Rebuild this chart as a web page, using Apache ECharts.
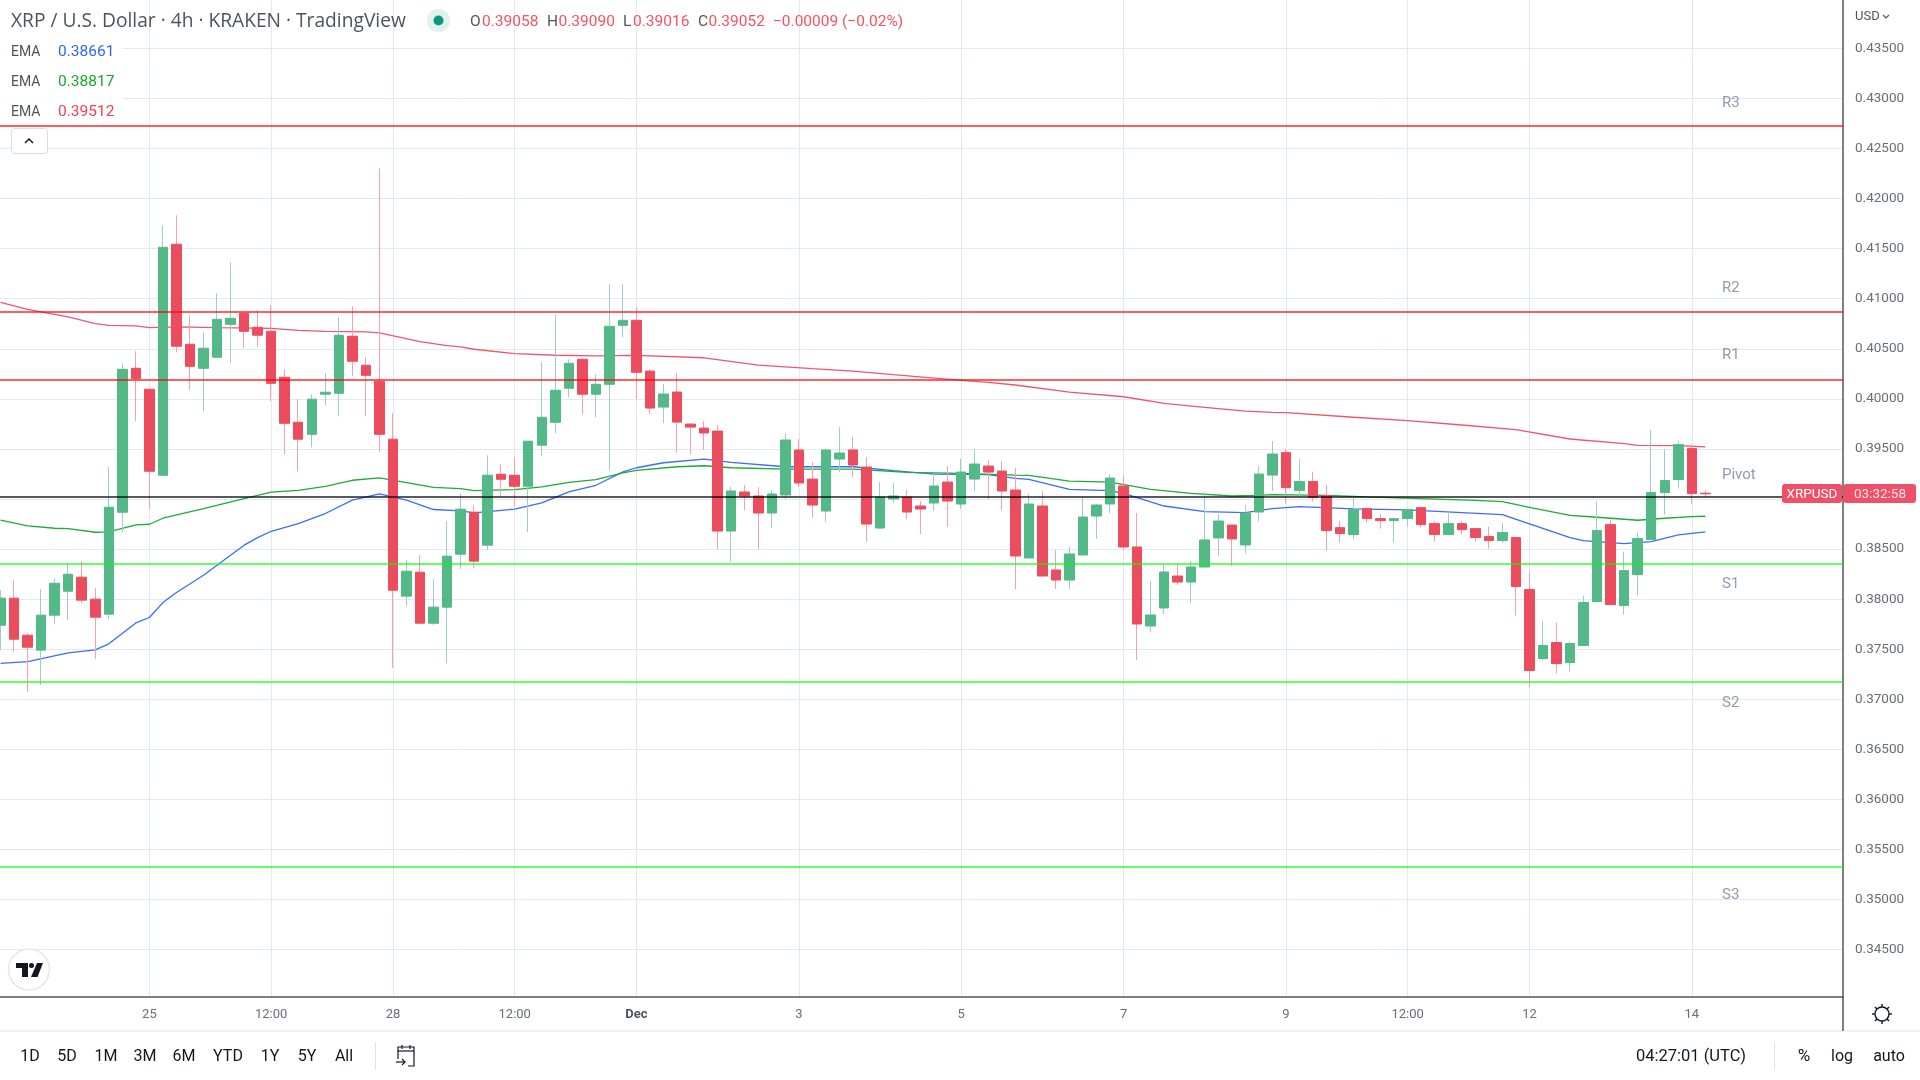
<!DOCTYPE html>
<html>
<head>
<meta charset="utf-8">
<script src="https://cdn.jsdelivr.net/npm/echarts@6/dist/echarts.min.js"></script>
<style>
  html, body { margin: 0; padding: 0; background: #fff; }
  #chart-id { width: 1920px; height: 1080px; }
</style>
</head>
<body>
<div id="chart-id"></div>
<script>
// XRP / USD 4h candles
var opens = [
  .37740,.38010,.37640,.37491,.37840,.38079,.38219,.38000,.37850,.38868,
  .40305,.40096,.39237,.41543,.40545,.40305,.40415,.40744,.40854,.40714,
  .40674,.40215,.39766,.39646,.40046,.40056,.40625,.40335,.40175,.39597,
  .38030,.38269,.37760,.37920,.38449,.38868,.38539,.39247,.39237,.39127,
  .39537,.39766,.40106,.40395,.40046,.40145,.40734,.40784,.40277,.39918,
  .40068,.39748,.39708,.39678,.38680,.39070,.39030,.38860,.39040,.39489,
  .39199,.38880,.39399,.39489,.39319,.38710,.39000,.39020,.38930,.38960,
  .39169,.38950,.39199,.39329,.39279,.39090,.38411,.38930,.38291,.38191,
  .38441,.38830,.38950,.39130,.38521,.37732,.37912,.38231,.38171,.38321,
  .38611,.38740,.38541,.38870,.39239,.39463,.39084,.39174,.39034,.38714,
  .38645,.38904,.38804,.38784,.38804,.38914,.38754,.38645,.38754,.38704,
  .38625,.38585,.38615,.38096,.37407,.37567,.37367,.37537,.37976,.38744,
  .37936,.38245,.38595,.39064,.39194,.39503,.39058
];
var closes = [
  .38010,.37600,.37520,.37840,.38159,.38249,.37990,.37820,.38918,.40295,
  .40202,.39277,.41513,.40525,.40325,.40505,.40794,.40804,.40674,.40635,
  .40155,.39756,.39597,.39996,.40066,.40635,.40375,.40235,.39646,.38089,
  .38279,.37760,.37920,.38429,.38898,.38379,.39237,.39197,.39127,.39577,
  .39816,.40086,.40355,.40046,.40145,.40724,.40784,.40265,.39908,.40048,
  .39768,.39718,.39659,.38680,.39080,.39030,.38860,.39050,.39589,.39160,
  .38940,.39489,.39459,.39339,.38750,.39020,.39030,.38870,.38900,.39130,
  .38980,.39269,.39349,.39269,.39080,.38431,.38950,.38231,.38191,.38451,
  .38820,.38940,.39209,.38521,.37752,.37842,.38271,.38171,.38321,.38591,
  .38780,.38601,.38860,.39249,.39449,.39114,.39174,.39014,.38685,.38655,
  .38894,.38804,.38784,.38804,.38894,.38744,.38645,.38754,.38694,.38615,
  .38585,.38665,.38126,.37287,.37537,.37357,.37557,.37966,.38685,.37946,
  .38285,.38605,.39064,.39184,.39543,.39054,.39052
];
var highs = [
  .38089,.38189,.37664,.38099,.38209,.38356,.38379,.38109,.39317,.40355,
  .40475,.40096,.41732,.41832,.40834,.40665,.41054,.41363,.40867,.40884,
  .40934,.40295,.39996,.40046,.40255,.40814,.40924,.40415,.42301,.39856,
  .38389,.38439,.38199,.38778,.39058,.38938,.39437,.39347,.39417,.39577,
  .40365,.40844,.40395,.40405,.40245,.41144,.41144,.40914,.40297,.40148,
  .40257,.39758,.39778,.39738,.39120,.39140,.39120,.39090,.39649,.39599,
  .39369,.39499,.39718,.39619,.39419,.39169,.39160,.39090,.38980,.39249,
  .39329,.39399,.39499,.39389,.39379,.39309,.39050,.39080,.38491,.38521,
  .39020,.38950,.39249,.39239,.38860,.38181,.38341,.38361,.38381,.39070,
  .38850,.38740,.38940,.39329,.39579,.39500,.39403,.39273,.39144,.38784,
  .39034,.38904,.38854,.38804,.38904,.38914,.38784,.38874,.38774,.38704,
  .38724,.38764,.38615,.38275,.37786,.37766,.37577,.38036,.38974,.38794,
  .38475,.38665,.39693,.39500,.39583,.39543,.39090
];
var lows = [
  .37491,.37471,.37075,.37141,.37750,.37790,.37960,.37401,.37800,.38668,
  .39776,.38898,.39227,.40465,.40086,.39876,.40415,.40355,.40505,.40515,
  .39976,.39447,.39277,.39517,.39936,.39826,.40225,.39826,.39467,.37311,
  .37930,.37750,.37740,.37361,.38299,.38309,.38489,.39028,.38928,.38668,
  .39427,.39656,.40016,.39846,.39816,.39287,.40615,.39996,.39848,.39758,
  .39459,.39449,.39489,.38501,.38371,.38890,.38501,.38710,.39000,.39120,
  .38810,.38770,.39269,.39219,.38571,.38710,.38960,.38800,.38650,.38880,
  .38720,.38900,.39080,.39000,.38890,.38102,.38411,.38231,.38102,.38102,
  .38441,.38601,.38860,.38491,.37393,.37672,.37852,.38141,.37962,.38321,
  .38431,.38331,.38461,.38780,.39080,.38954,.39024,.38974,.38485,.38565,
  .38595,.38764,.38704,.38565,.38724,.38714,.38575,.38645,.38645,.38575,
  .38505,.38565,.37836,.37117,.37387,.37257,.37277,.37537,.37976,.37946,
  .37846,.38036,.38595,.38844,.39104,.38954,.39016
];

// EMA lines, [candle number, price] read at the visible bends
var emaBlue = [
  [0,.37358],[2,.37377],[5,.37464],[7,.37494],[8,.37554],[10,.37763],[11,.37817],[12,.37966],
  [13,.38066],[15,.38239],[18,.38539],[19,.38615],[20,.38678],[22,.38755],[24,.38855],[26,.38988],
  [28,.39051],[30,.38988],[32,.38895],[34,.38881],[35,.38861],[38,.38898],[40,.38961],[42,.39071],
  [44,.39137],[46,.39271],[47,.39312],[49,.39362],[52,.39399],[54,.39366],[58,.39322],[63,.39322],
  [66,.39283],[69,.39249],[73,.39243],[75,.39206],[76,.39196],[79,.39096],[82,.39083],[83,.39056],
  [86,.38930],[89,.38873],[92,.38863],[94,.38903],[96,.38924],[100,.38901],[104,.38891],[108,.38864],
  [111,.38844],[113,.38751],[116,.38615],[117,.38585],[120,.38555],[122,.38575],[124,.38641],[126,.38671]
];
var emaGreen = [
  [0,.38788],[2,.38732],[4,.38708],[5,.38705],[7,.38668],[8,.38672],[10,.38742],[11,.38748],
  [12,.38808],[15,.38904],[18,.39004],[20,.39068],[22,.39087],[24,.39127],[26,.39187],[28,.39211],
  [32,.39117],[34,.39104],[35,.39084],[38,.39094],[40,.39121],[42,.39167],[44,.39194],[46,.39261],
  [47,.39286],[50,.39322],[52,.39332],[54,.39312],[58,.39299],[63,.39299],[67,.39266],[71,.39256],
  [75,.39239],[76,.39236],[79,.39179],[82,.39169],[85,.39096],[88,.39056],[91,.39030],[93,.39036],
  [94,.39043],[98,.39037],[101,.39021],[105,.39004],[109,.38987],[111,.38974],[113,.38917],[116,.38837],
  [118,.38818],[121,.38788],[123,.38808],[125,.38824],[126,.38828]
];
var emaRed = [
  [0,.40964],[2,.40894],[5,.40818],[7,.40751],[8,.40734],[10,.40728],[11,.40711],[13,.40718],
  [16,.40711],[20,.40704],[22,.40684],[24,.40674],[27,.40668],[28,.40658],[31,.40571],[33,.40531],
  [34,.40518],[35,.40495],[38,.40452],[41,.40435],[44,.40428],[47,.40434],[52,.40410],[56,.40337],
  [60,.40301],[63,.40277],[66,.40241],[69,.40207],[73,.40164],[75,.40138],[79,.40068],[83,.40021],
  [86,.39955],[89,.39915],[92,.39878],[94,.39865],[95,.39862],[100,.39816],[104,.39782],[108,.39739],
  [112,.39693],[116,.39599],[120,.39553],[121,.39536],[124,.39533],[126,.39520]
];

// pivot levels
var pivotNames = ['R3', 'R2', 'R1', 'Pivot', 'S1', 'S2', 'S3'];
var pivotValues = [.42724, .40874, .40195, .39018, .38349, .37171, .35326];
var pivotLabelValues = [.42950, .41102, .40432, .39238, .38148, .36963, .35043];

// time axis, candle number of each tick
var timeTicks = [11, 20, 29, 38, 47, 59, 71, 83, 95, 104, 113, 125];
var timeLabels = ['25', '12:00', '28', '12:00', 'Dec', '3', '5', '7', '9', '12:00', '12', '14'];
var priceTicks = [.345, .35, .355, .36, .365, .37, .375, .38, .385, .39, .395, .40, .405, .41, .415, .42, .425, .43, .435];

var legendKeys = ['O', 'H', 'L', 'C'];
var legendValues = ['0.39058', '0.39090', '0.39016', '0.39052'];
var legendKeyX = [470, 547, 623, 698];
var legendValueX = [482, 558.5, 633, 708.5];

var rangeButtons = ['1D', '5D', '1M', '3M', '6M', 'YTD', '1Y', '5Y', 'All'];
var rangeButtonX = [30, 67, 106, 145, 184, 228, 270, 307, 344];

var FONT = 'Roboto, sans-serif';
var UP = '#53b987', DOWN = '#ec4d5e', UP_WICK = '#a2cbcc', DOWN_WICK = '#f7a1ad';
var GRID = '#e1eaf0';
var BAND = 13.53, FIRST = 0.57;   // px per candle, px of first candle

var wicks = opens.map(function (o, i) { return [i, o, closes[i], lows[i], highs[i]]; });
var bodies = opens.map(function (o, i) {
  return [i, o, closes[i], Math.min(o, closes[i]), Math.max(o, closes[i])];
});

var pivotLines = pivotValues.map(function (v, i) {
  var col = i < 3 ? 'rgba(255,0,0,0.63)' : i === 3 ? 'rgba(0,0,0,0.65)' : 'rgba(0,255,0,0.6)';
  return { yAxis: v, lineStyle: { color: col, width: 2, type: 'solid' } };
});
var pivotLabels = pivotNames.map(function (n, i) {
  return { value: [(1722 - FIRST) / BAND, pivotLabelValues[i]], name: n };
});

function txt(x, y, s, size, color, align, family) {
  return {
    type: 'text', x: x, y: y, z: 100, silent: true,
    style: { text: s, font: size + 'px ' + (family || FONT), fill: color, align: align || 'left', verticalAlign: 'middle' }
  };
}
function box(x, y, w, h, fill, r, stroke) {
  return {
    type: 'rect', z: 99, silent: true, shape: { x: x, y: y, width: w, height: h, r: r || 0 },
    style: { fill: fill, stroke: stroke || null }
  };
}
function poly(points, color, width) {
  return { type: 'polyline', z: 100, silent: true, shape: { points: points }, style: { stroke: color, lineWidth: width || 1.5, fill: null } };
}

var gearRays = [];
for (var a = 0; a < 8; a++) {
  var c = Math.cos(a * Math.PI / 4), s = Math.sin(a * Math.PI / 4);
  gearRays.push(poly([[1882 + 7 * c, 1014 + 7 * s], [1882 + 10 * c, 1014 + 10 * s]], '#131722', 1.4));
}

var graphics = [
  // header backgrounds
  box(0, 38, 123, 26, 'rgba(255,255,255,0.85)'),
  box(0, 68, 123, 26, 'rgba(255,255,255,0.85)'),
  box(0, 98, 123, 26, 'rgba(255,255,255,0.85)'),
  txt(11, 22, 'XRP / U.S. Dollar · 4h · KRAKEN · TradingView', 19.2, '#50535e', 'left', '"Open Sans", sans-serif'),
  { type: 'circle', z: 99, silent: true, shape: { cx: 438.5, cy: 20.5, r: 11.5 }, style: { fill: '#dff2ef' } },
  { type: 'circle', z: 100, silent: true, shape: { cx: 438.5, cy: 20.5, r: 5 }, style: { fill: '#0b9880' } },
  txt(773, 22, '−0.00009 (−0.02%)', 15.5, '#f7525f'),
  txt(11, 52, 'EMA', 14, '#50535e'), txt(58, 52, '0.38661', 15.5, '#2f66f6'),
  txt(11, 82, 'EMA', 14, '#50535e'), txt(58, 82, '0.38817', 15.5, '#17a82c'),
  txt(11, 112, 'EMA', 14, '#50535e'), txt(58, 112, '0.39512', 15.5, '#f23f52'),
  // collapse button
  box(11.5, 128.5, 36, 25, '#fff', 3, '#d6dce3'),
  poly([[25, 143], [29, 139], [33, 143]], '#131722', 1.5),
  // logo
  { type: 'circle', z: 99, silent: true, shape: { cx: 29, cy: 969.5, r: 20.5 }, style: { fill: '#fff', stroke: '#e6e6e6', lineWidth: 1.5 } },
  { type: 'polygon', z: 100, silent: true, shape: { points: [[16, 963], [28, 963], [28, 977], [22, 977], [22, 968], [16, 968]] }, style: { fill: '#131722' } },
  { type: 'circle', z: 100, silent: true, shape: { cx: 31.5, cy: 965.5, r: 2.5 }, style: { fill: '#131722' } },
  { type: 'polygon', z: 100, silent: true, shape: { points: [[37, 963], [43, 963], [37.5, 977], [31, 977]] }, style: { fill: '#131722' } },
  // USD selector
  txt(1855, 17, 'USD', 13, '#50535e'),
  poly([[1883, 15], [1886, 18], [1889, 15]], '#50535e', 1.2),
  // last price tags
  box(1782, 484, 60, 19, '#ef5068', 3),
  box(1843.5, 484, 72.5, 19, '#ef5068', 3),
  txt(1812, 494.5, 'XRPUSD', 13.5, '#fff', 'center'),
  txt(1880, 494.5, '03:32:58', 13.5, 'rgba(255,255,255,0.85)', 'center'),
  // footer
  { type: 'line', z: 98, silent: true, shape: { x1: 0, y1: 1031, x2: 1920, y2: 1031 }, style: { stroke: '#e0e3eb', lineWidth: 1 } },
  { type: 'line', z: 98, silent: true, shape: { x1: 1843, y1: 997, x2: 1843, y2: 1031 }, style: { stroke: '#555', lineWidth: 1.5 } },
  { type: 'line', z: 98, silent: true, shape: { x1: 375.5, y1: 1042, x2: 375.5, y2: 1070 }, style: { stroke: '#e0e3eb', lineWidth: 1 } },
  { type: 'line', z: 98, silent: true, shape: { x1: 1774.5, y1: 1042, x2: 1774.5, y2: 1070 }, style: { stroke: '#e0e3eb', lineWidth: 1 } },
  txt(1636, 1057, '04:27:01 (UTC)', 16.5, '#131722'),
  txt(1804, 1057, '%', 17, '#131722', 'center'),
  txt(1842, 1057, 'log', 16, '#131722', 'center'),
  txt(1889, 1057, 'auto', 16, '#131722', 'center'),
  // calendar icon
  poly([[398, 1059], [398, 1047], [414, 1047], [414, 1066], [408, 1066]], '#131722', 1.2),
  poly([[398, 1051], [414, 1051]], '#131722', 1.2),
  poly([[402, 1045], [402, 1049]], '#131722', 1.2),
  poly([[410, 1045], [410, 1049]], '#131722', 1.2),
  poly([[396, 1062], [405, 1062]], '#131722', 1.2),
  poly([[402, 1059], [405, 1062], [402, 1065]], '#131722', 1.2),
  // settings icon
  { type: 'circle', z: 100, silent: true, shape: { cx: 1882, cy: 1014, r: 7 }, style: { fill: '#fff', stroke: '#131722', lineWidth: 1.4 } }
].concat(gearRays);

legendKeys.forEach(function (k, i) {
  graphics.push(txt(legendKeyX[i], 22, k, 15.5, '#555'));
  graphics.push(txt(legendValueX[i], 22, legendValues[i], 15.5, '#f7525f'));
});
rangeButtons.forEach(function (b, i) {
  graphics.push(txt(rangeButtonX[i], 1057, b, 16, '#131722', 'center'));
});

var myChart = echarts.init(document.getElementById('chart-id'));

var option = {
  animation: false,
  backgroundColor: '#fff',
  textStyle: { fontFamily: FONT },
  grid: { left: 0, top: 0, width: 1843, height: 997 },
  xAxis: {
    type: 'value',
    min: (0 - FIRST) / BAND,
    max: (1843 - FIRST) / BAND,
    axisLine: { onZero: false, lineStyle: { color: '#555', width: 1.5 } },
    axisTick: { show: false, customValues: timeTicks },
    splitLine: { show: true, lineStyle: { color: GRID, width: 1 } },
    axisLabel: {
      customValues: timeTicks,
      margin: 11,
      fontFamily: FONT,
      fontSize: 13,
      color: '#6a6d78',
      formatter: function (v) {
        var s = timeLabels[timeTicks.indexOf(v)];
        return s === 'Dec' ? '{b|Dec}' : s;
      },
      rich: { b: { fontFamily: FONT, fontSize: 13, fontWeight: 'bold', color: '#50535e' } }
    }
  },
  yAxis: {
    type: 'value',
    position: 'right',
    min: 0.34028,
    max: 0.43982,
    axisLine: { show: true, onZero: false, lineStyle: { color: '#555', width: 1.5 } },
    axisTick: { show: false, customValues: priceTicks },
    splitLine: { show: true, lineStyle: { color: GRID, width: 1 } },
    axisLabel: {
      customValues: priceTicks,
      margin: 12,
      padding: [2, 0, 0, 0],
      fontFamily: FONT,
      fontSize: 13.5,
      color: '#6a6d78',
      formatter: function (v) { return v.toFixed(5); }
    }
  },
  graphic: graphics,
  series: [
    { type: 'line', data: emaBlue, showSymbol: false, z: 2, lineStyle: { color: '#3a6cff', width: 1.3 } },
    { type: 'line', data: emaGreen, showSymbol: false, z: 2, lineStyle: { color: '#1eab36', width: 1.3 } },
    { type: 'line', data: emaRed, showSymbol: false, z: 2, lineStyle: { color: '#f0566a', width: 1.3 } },
    {
      type: 'candlestick', data: wicks, barWidth: 1, z: 3,
      itemStyle: { color: UP_WICK, color0: DOWN_WICK, borderColor: UP_WICK, borderColor0: DOWN_WICK, borderWidth: 1 }
    },
    {
      type: 'candlestick', data: bodies, barWidth: 10, z: 4,
      itemStyle: { color: UP, color0: DOWN, borderColor: UP, borderColor0: DOWN, borderWidth: 1 }
    },
    {
      type: 'line', data: [], z: 5,
      markLine: { silent: true, symbol: 'none', animation: false, precision: 5, label: { show: false }, data: pivotLines }
    },
    {
      type: 'scatter', data: pivotLabels, symbolSize: 0, z: 6, silent: true,
      label: {
        show: true, position: 'right', distance: 0, formatter: '{b}',
        fontFamily: FONT, fontSize: 15, color: '#6f8598'
      }
    }
  ]
};

option && myChart.setOption(option);
</script>
</body>
</html>
